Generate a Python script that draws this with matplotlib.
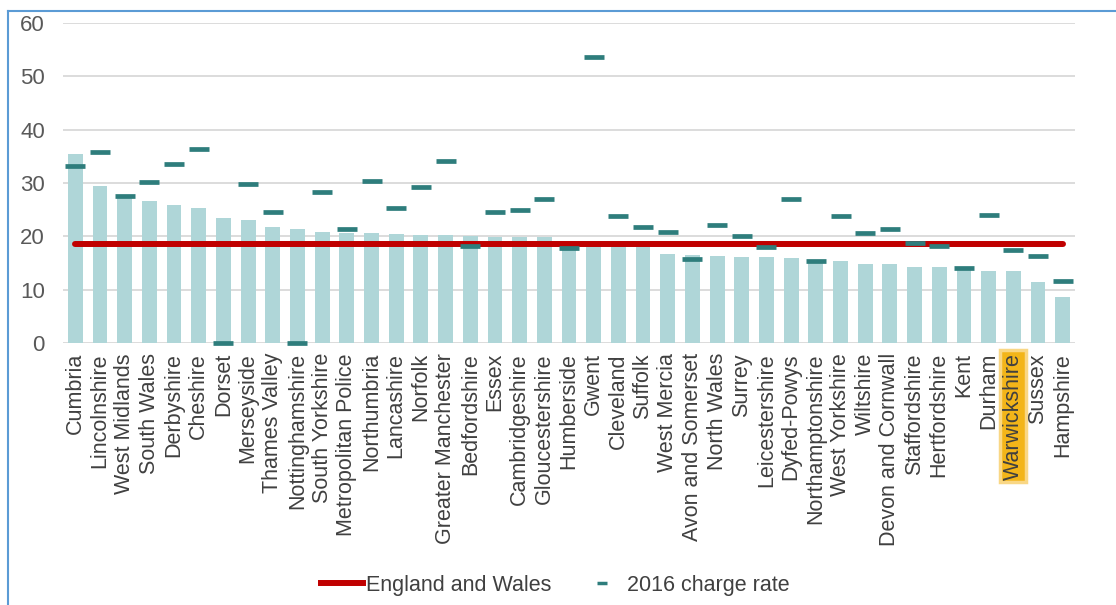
import matplotlib
matplotlib.use("Agg")
import matplotlib.pyplot as plt
from matplotlib.lines import Line2D
import numpy as np

# Police force areas, ordered by current charge rate
forces = [
    "Cumbria", "Lincolnshire", "West Midlands", "South Wales", "Derbyshire",
    "Cheshire", "Dorset", "Merseyside", "Thames Valley", "Nottinghamshire",
    "South Yorkshire", "Metropolitan Police", "Northumbria", "Lancashire",
    "Norfolk", "Greater Manchester", "Bedfordshire", "Essex", "Cambridgeshire",
    "Gloucestershire", "Humberside", "Gwent", "Cleveland", "Suffolk",
    "West Mercia", "Avon and Somerset", "North Wales", "Surrey",
    "Leicestershire", "Dyfed-Powys", "Northamptonshire", "West Yorkshire",
    "Wiltshire", "Devon and Cornwall", "Staffordshire", "Hertfordshire",
    "Kent", "Durham", "Warwickshire", "Sussex", "Hampshire",
]

# Current charge rate (bars)
charge_rate = [
    35.4, 29.5, 27.2, 26.6, 25.8, 25.4, 23.4, 23.0, 21.8, 21.4,
    20.8, 20.7, 20.6, 20.5, 20.3, 20.2, 20.0, 19.9, 19.9, 19.9,
    19.0, 18.5, 18.4, 18.3, 16.7, 16.5, 16.3, 16.2, 16.2, 15.9,
    15.6, 15.4, 14.9, 14.9, 14.3, 14.3, 13.9, 13.6, 13.5, 11.5,
    8.6,
]

# 2016 charge rate (dash markers)
charge_rate_2016 = [
    33.2, 35.8, 27.6, 30.1, 33.5, 36.4, 0.0, 29.8, 24.6, 0.0,
    28.4, 21.3, 30.4, 25.3, 29.3, 34.1, 18.3, 24.6, 24.9, 27.0,
    17.8, 53.6, 23.8, 21.8, 20.9, 15.7, 22.2, 20.0, 18.0, 27.0,
    15.4, 23.8, 20.7, 21.3, 18.7, 18.3, 14.0, 24.1, 17.5, 16.3,
    11.7,
]

england_and_wales = 18.5
highlighted_force = "Warwickshire"
y_ticks = [0, 10, 20, 30, 40, 50, 60]

plt.rcParams['font.family'] = ['Liberation Sans', 'DejaVu Sans']

W, H = 1116, 605
fig = plt.figure(figsize=(W / 100, H / 100), dpi=100)
fig.patch.set_facecolor('white')

ax = fig.add_axes([63 / W, 1 - 343.3 / H, (1075 - 63) / W, (343.3 - 22.7) / H])
x = np.arange(len(forces))

ax.bar(x, charge_rate, width=0.6, color='#AFD6D8', zorder=2)
ax.plot(x, [england_and_wales] * len(x), color='#C00000', lw=4.3,
        solid_capstyle='round', zorder=3)
ax.plot(x, charge_rate_2016, ls='none', marker='_', ms=14.4, mew=3.4,
        color='#2E7D7C', zorder=4, clip_on=False)

ax.set_xlim(-0.5, len(x) - 0.5)
ax.set_ylim(0, 60)
ax.set_yticks(y_ticks)
ax.grid(axis='y', color='#D9D9D9', lw=1.3, zorder=0)
ax.set_axisbelow(True)
for s in ax.spines.values():
    s.set_visible(False)

ax.tick_params(axis='y', length=0, pad=13, labelsize=16, labelcolor='#595959')
ax.tick_params(axis='x', length=0, pad=7, labelsize=15.5, labelcolor='#404040')
ax.set_xticks(x)
ax.set_xticklabels(forces, rotation=90, va='top', ha='center')

for lbl in ax.get_xticklabels():
    if lbl.get_text() == highlighted_force:
        lbl.set_bbox(dict(boxstyle='square,pad=0.12', fc='#F3B519',
                          ec='#F9D785', lw=2.5))

handles = [
    Line2D([], [], color='#C00000', lw=4.3),
    Line2D([], [], ls='none', marker='_', ms=6.5, mew=2.5, color='#2E7D7C'),
]
fig.legend(handles, ["England and Wales", "2016 charge rate"],
           loc='center', bbox_to_anchor=(555 / W, 1 - 585 / H),
           ncol=2, frameon=False, fontsize=15.5, handlelength=1.95,
           handletextpad=0.15, columnspacing=1.4, labelcolor='#404040')

# Outer chart-area border (left and top edges)
border = '#5B9BD5'
fig.add_artist(Line2D([8 / W, 8 / W], [0, 1 - 10.5 / H],
                      transform=fig.transFigure, color=border, lw=1.5))
fig.add_artist(Line2D([8 / W, 1], [1 - 10.5 / H, 1 - 10.5 / H],
                      transform=fig.transFigure, color=border, lw=1.5))

fig.savefig('out.png', dpi=100)
